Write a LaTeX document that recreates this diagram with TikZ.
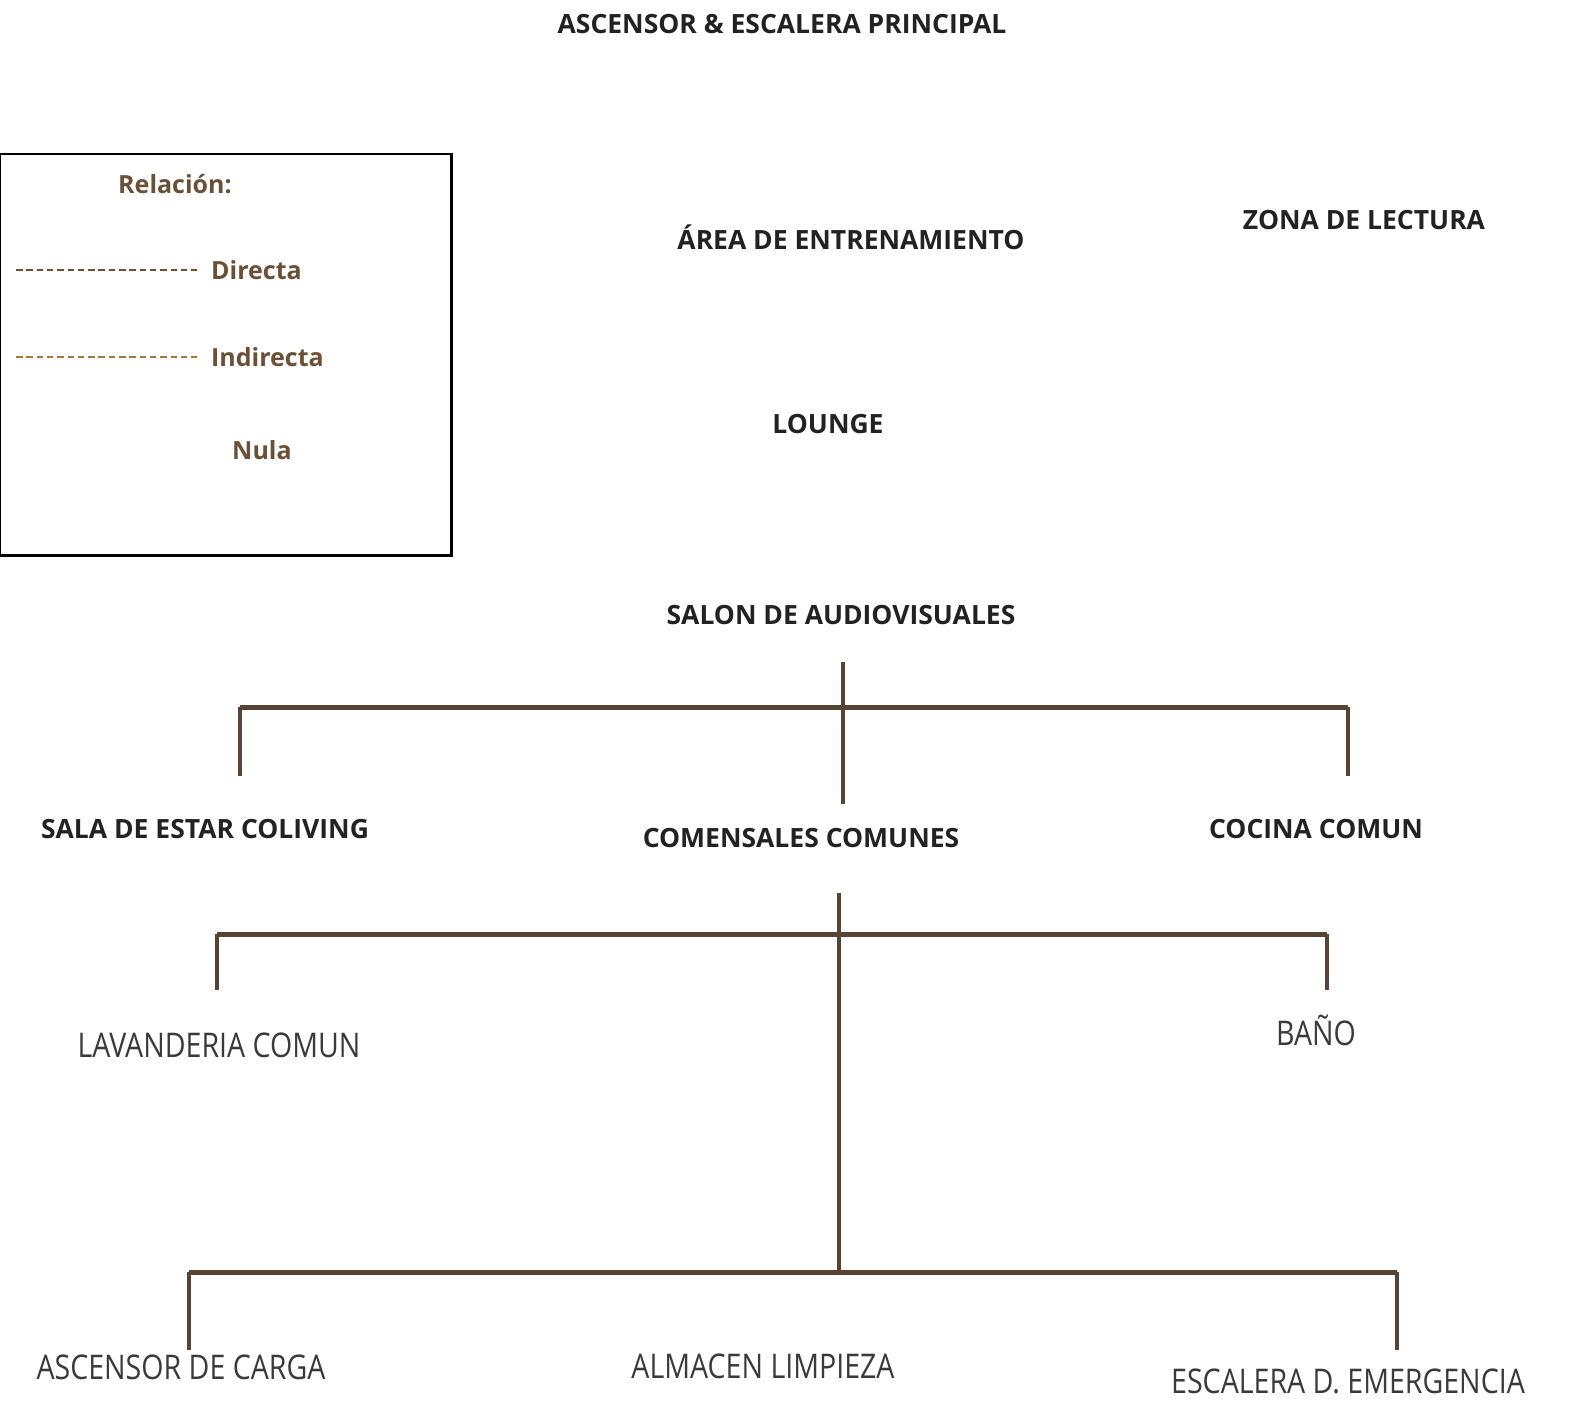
\documentclass[tikz,border=0pt]{standalone}
\usepackage{fontspec}
\setmainfont{Open Sans}
\newfontfamily\condfont[FakeStretch=0.84]{Open Sans}
\definecolor{textdark}{HTML}{222222}
\definecolor{textgray}{HTML}{3A3A3A}
\definecolor{legbrown}{HTML}{6B5038}
\definecolor{indbrown}{HTML}{A27B3C}
\definecolor{linebrown}{HTML}{574434}
\begin{document}
\begin{tikzpicture}[x=1pt,y=-1pt,
  head/.style={font=\bfseries\fontsize{26.5}{30}\selectfont, text=textdark, inner sep=0pt, anchor=center},
  leaf/.style={font=\condfont\fontsize{34}{38}\selectfont, text=textgray, inner sep=0pt, anchor=center},
  legtext/.style={font=\bfseries\fontsize{25}{30}\selectfont, text=legbrown, inner sep=0pt},
  trunk/.style={draw=linebrown, line width=3.5pt},
  bar/.style={draw=linebrown, line width=5pt},
  drop/.style={draw=linebrown, line width=3.5pt},
  legline/.style={line width=2.5pt, dash pattern=on 6.5pt off 3.8pt}
]
\useasboundingbox (0,0) rectangle (1573,1404);

% legend
\node[draw=black, line width=2.5pt, minimum width=452pt, minimum height=401pt, anchor=north west, inner sep=0pt] (legend) at (-2,153) {};
\node[legtext] (rel) at (175,184) {Relación:};
\coordinate (d0) at (16,270);
\coordinate (d1) at (197,270);
\draw[legline, draw=legbrown] (d0) -- (d1);
\node[legtext, anchor=west] (dir) at (211,270) {Directa};
\coordinate (i0) at (16,357);
\coordinate (i1) at (197,357);
\draw[legline, draw=indbrown] (i0) -- (i1);
\node[legtext, anchor=west] (ind) at (211,357) {Indirecta};
\node[legtext, anchor=west] (nula) at (232,450) {Nula};

% spaces
\node[head] (asc) at (782,24) {ASCENSOR \& ESCALERA PRINCIPAL};
\node[head] (area) at (851,237) {ÁREA DE ENTRENAMIENTO};
\node[head] (zona) at (1364,220) {ZONA DE LECTURA};
\node[head] (lounge) at (828,424) {LOUNGE};
\node[head] (salon) at (841,615) {SALON DE AUDIOVISUALES};
\node[head] (sala) at (205,829) {SALA DE ESTAR COLIVING};
\node[head] (comen) at (801,838) {COMENSALES COMUNES};
\node[head] (cocina) at (1316,829) {COCINA COMUN};
\node[leaf] (lav) at (219,1045) {LAVANDERIA COMUN};
\node[leaf] (bano) at (1316,1030) {BAÑO};
\node[leaf] (carga) at (181,1367) {ASCENSOR DE CARGA};
\node[leaf] (almacen) at (763,1366) {ALMACEN LIMPIEZA};
\node[leaf] (escalera) at (1348,1381) {ESCALERA D. EMERGENCIA};

% first branching
\coordinate (t1a) at (843,662);
\coordinate (t1b) at (843,804);
\coordinate (h1l) at (240,707);
\coordinate (h1r) at (1348,707);
\coordinate (d1l) at (240,776);
\coordinate (d1r) at (1348,776);
\draw[bar] (h1l) -- (h1r);
\draw[drop] (h1l) -- (d1l);
\draw[drop] (h1r) -- (d1r);
\draw[trunk] (t1a) -- (t1b);

% second branching
\coordinate (t2a) at (839,893);
\coordinate (t2b) at (839,1272);
\coordinate (h2l) at (217,934);
\coordinate (h2r) at (1327,934);
\coordinate (d2l) at (217,990);
\coordinate (d2r) at (1327,990);
\draw[bar] (h2l) -- (h2r);
\draw[drop] (h2l) -- (d2l);
\draw[drop] (h2r) -- (d2r);

% third branching
\coordinate (h3l) at (189,1272);
\coordinate (h3r) at (1397,1272);
\coordinate (d3l) at (189,1350);
\coordinate (d3r) at (1397,1350);
\draw[bar] (h3l) -- (h3r);
\draw[drop] (h3l) -- (d3l);
\draw[drop] (h3r) -- (d3r);
\draw[trunk] (t2a) -- (t2b);
\end{tikzpicture}
\end{document}
